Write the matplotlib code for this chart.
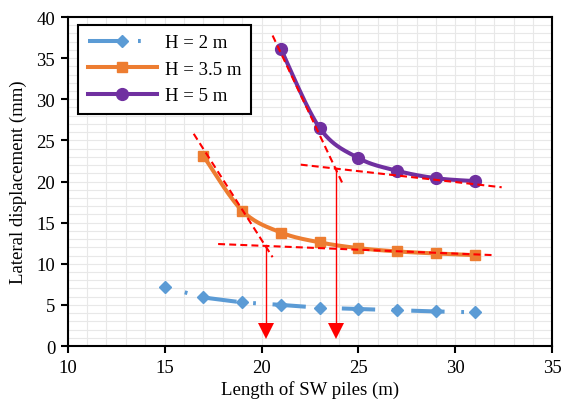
import matplotlib
matplotlib.use('Agg')
import matplotlib.pyplot as plt
from matplotlib.lines import Line2D
from matplotlib.ticker import MultipleLocator
import numpy as np

plt.rcParams['font.family'] = ['Liberation Serif', 'DejaVu Serif']
plt.rcParams['lines.scale_dashes'] = False

# data
x_h2 = [15, 17, 19, 21, 23, 25, 27, 29, 31]
y_h2 = [7.2, 5.9, 5.3, 5.0, 4.65, 4.5, 4.35, 4.2, 4.1]
x_h35 = [17, 19, 21, 23, 25, 27, 29, 31]
y_h35 = [23.1, 16.45, 13.8, 12.6, 11.9, 11.5, 11.25, 11.05]
x_h5 = [21, 23, 25, 27, 29, 31]
y_h5 = [36.1, 26.5, 22.85, 21.3, 20.4, 20.05]
labels = ['H = 2 m', 'H = 3.5 m', 'H = 5 m']

# red tangent lines (start, end) and arrows (x, top y)
tangents = [
    [(16.5, 25.8), (20.57, 10.8)],
    [(17.76, 12.4), (31.96, 11.05)],
    [(20.57, 37.75), (24.17, 19.8)],
    [(22.02, 22.05), (32.39, 19.3)],
]
arrow_x = [20.23, 23.85]
arrow_top = [12.28, 21.6]

c_blue = '#5B9BD5'
c_orange = '#ED7D31'
c_purple = '#7030A0'

fs = 13.5


def smooth(xs, ys, n=30):
    # excel style bezier smoothing
    p = np.column_stack([xs, ys]).astype(float)
    pts = [p[0]]
    for i in range(len(p) - 1):
        p0 = p[i - 1] if i > 0 else p[i]
        p1 = p[i]
        p2 = p[i + 1]
        p3 = p[i + 2] if i + 2 < len(p) else p[i + 1]
        c1 = p1 + (p2 - p0) / 6
        c2 = p2 - (p3 - p1) / 6
        t = np.linspace(0, 1, n)[1:, None]
        b = (1 - t)**3 * p1 + 3 * (1 - t)**2 * t * c1 + 3 * (1 - t) * t**2 * c2 + t**3 * p2
        pts.extend(b)
    pts = np.array(pts)
    return pts[:, 0], pts[:, 1]


fig = plt.figure(figsize=(5.62, 4.02), dpi=100)
ax = fig.add_axes([0.1205, 0.1368, 0.8622, 0.8184])

dash2 = (21, (24, 12, 2, 12))
lw = 2.9

ax.plot(x_h2, y_h2, color=c_blue, lw=lw, linestyle=dash2, zorder=3)
ax.plot(x_h2, y_h2, linestyle='none', marker='D', ms=6, color=c_blue, zorder=4)

sx, sy = smooth(x_h35, y_h35)
ax.plot(sx, sy, color=c_orange, lw=lw, solid_capstyle='round', zorder=3)
ax.plot(x_h35, y_h35, linestyle='none', marker='s', ms=7.5, color=c_orange, zorder=4)

sx, sy = smooth(x_h5, y_h5)
ax.plot(sx, sy, color=c_purple, lw=lw, solid_capstyle='round', zorder=3)
ax.plot(x_h5, y_h5, linestyle='none', marker='o', ms=8.5, color=c_purple, zorder=4)

for (a, b) in tangents:
    ax.plot([a[0], b[0]], [a[1], b[1]], color='red', lw=1.5, linestyle=(0, (5, 3)), zorder=5)

for x, top in zip(arrow_x, arrow_top):
    ax.plot([x, x], [top, 2.0], color='red', lw=1.0, zorder=5)
    ax.plot([x], [1.78], marker='v', ms=11.5, color='red', zorder=5, markeredgewidth=0)

ax.set_xlim(10, 35)
ax.set_ylim(0, 40)
ax.xaxis.set_major_locator(MultipleLocator(5))
ax.yaxis.set_major_locator(MultipleLocator(5))
ax.xaxis.set_minor_locator(MultipleLocator(1))
ax.yaxis.set_minor_locator(MultipleLocator(1))
ax.grid(which='both', color='#E8E8E8', lw=0.8, zorder=0)
ax.set_axisbelow(True)
ax.tick_params(which='major', direction='out', length=5, width=1.5, labelsize=fs, colors='black', pad=4)
ax.tick_params(which='minor', length=0)
for s in ax.spines.values():
    s.set_linewidth(1.5)
    s.set_color('black')

ax.set_xlabel('Length of SW piles (m)', fontsize=fs, labelpad=3)
ax.set_ylabel('Lateral displacement (mm)', fontsize=fs, labelpad=7)

handles = [
    Line2D([], [], color=c_blue, lw=lw, linestyle=(0, (24, 12, 2, 12)), marker='D', ms=6),
    Line2D([], [], color=c_orange, lw=lw, marker='s', ms=7.5),
    Line2D([], [], color=c_purple, lw=lw, marker='o', ms=8.5),
]
leg = ax.legend(handles, labels, loc='upper left', bbox_to_anchor=(0.022, 0.976),
                borderaxespad=0, fontsize=fs, handlelength=3.7, handletextpad=0.4,
                labelspacing=0.5, fancybox=False, framealpha=1, edgecolor='black',
                borderpad=0.5)
leg.get_frame().set_linewidth(1.5)

fig.savefig('out.png', dpi=100)
